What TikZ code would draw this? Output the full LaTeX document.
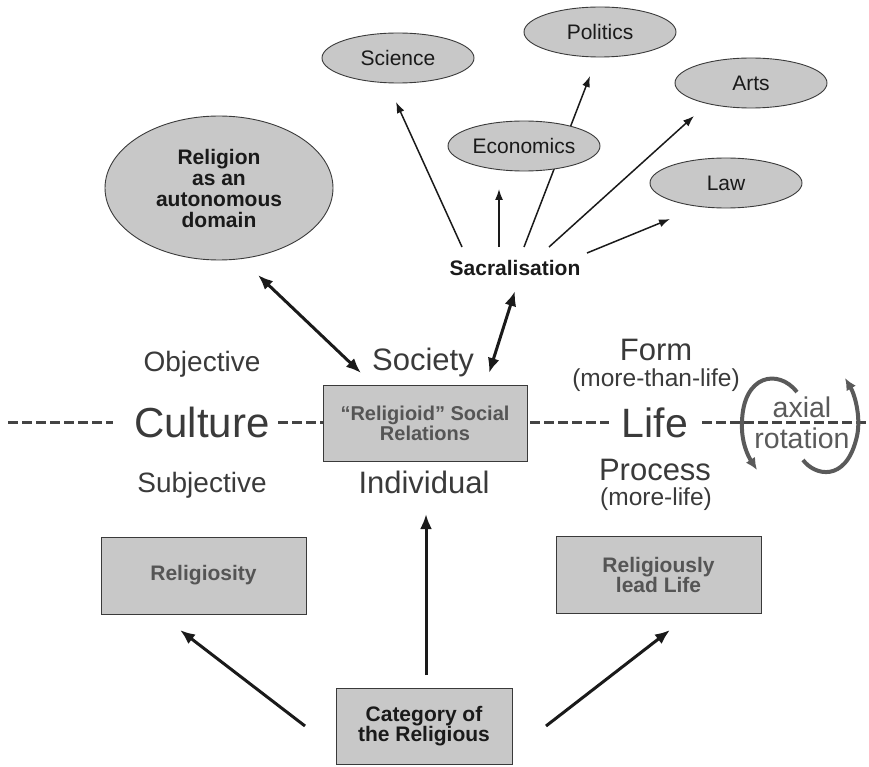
\documentclass[tikz,border=0pt]{standalone}
\usepackage{fontspec}
\setmainfont{Liberation Sans}
\usetikzlibrary{arrows.meta,shapes.geometric}
\definecolor{txt}{HTML}{3A3A3A}
\definecolor{boxtxt}{HTML}{555555}
\definecolor{fillg}{HTML}{C8C8C8}
\definecolor{edgec}{HTML}{3A3A3A}
\definecolor{dashc}{HTML}{444444}
\definecolor{rotc}{HTML}{5A5A5A}
\definecolor{ink}{HTML}{1A1A1A}
\newcommand\fsz[2]{\fontsize{#1}{#2}\selectfont}
\begin{document}
\begin{tikzpicture}[x=1pt,y=-1pt,
  lbl/.style={inner sep=0pt,text=txt,anchor=base},
  ell/.style={ellipse,draw=edgec,line width=0.9pt,fill=fillg,inner sep=0pt,text=ink,font=\fsz{21}{21}},
  boxn/.style={rectangle,draw=edgec,line width=0.9pt,fill=fillg,inner sep=0pt,align=center,text=boxtxt,font=\fsz{21}{20}\bfseries},
  dashline/.style={draw=dashc,line width=3pt,dash pattern=on 9.5pt off 4.5pt},
  thinarrow/.style={draw=ink,line width=1.5pt,-{Latex[length=11pt,width=8pt]}},
  thickarrow/.style={draw=ink,line width=3pt,-{Latex[length=15pt,width=12pt]}},
  dblarrow/.style={draw=ink,line width=3pt,{Latex[length=15pt,width=12pt]}-{Latex[length=15pt,width=12pt]}},
  rotarrow/.style={draw=rotc,line width=4pt,-{Latex[length=12pt,width=11pt]}}]
\useasboundingbox (0,0) rectangle (869,767);

% sacralisation
\node[lbl,text=ink,font=\fsz{21}{21}\bfseries] (sacr) at (515,275) {Sacralisation};

% spokes (drawn first so the ellipses cover them)
\coordinate (s1) at (462,247); \coordinate (t1) at (396,102);
\coordinate (s2) at (499,247); \coordinate (t2) at (499,189);
\coordinate (s3) at (524,247); \coordinate (t3) at (590,76);
\coordinate (s4) at (549,247); \coordinate (t4) at (694,116);
\coordinate (s5) at (587,253); \coordinate (t5) at (670,219);
\draw[thinarrow] (s1) -- (t1);
\draw[thinarrow] (s2) -- (t2);
\draw[thinarrow] (s3) -- (t3);
\draw[thinarrow] (s4) -- (t4);
\draw[thinarrow] (s5) -- (t5);

% ellipses
\node[ell,minimum width=228pt,minimum height=144pt,align=center,font=\fsz{21}{21}\bfseries] (religion) at (219,188) {Religion\\as an\\autonomous\\domain};
\node[ell,minimum width=152pt,minimum height=50pt] (science) at (398,58) {Science};
\node[ell,minimum width=152pt,minimum height=50pt] (politics) at (600,32) {Politics};
\node[ell,minimum width=152pt,minimum height=50pt] (economics) at (524,146) {Economics};
\node[ell,minimum width=152pt,minimum height=50pt] (arts) at (751,83) {Arts};
\node[ell,minimum width=152pt,minimum height=50pt] (law) at (726,183) {Law};

% middle labels
\node[lbl,font=\fsz{28}{28}] (objective) at (202,371) {Objective};
\node[lbl,font=\fsz{42}{42}] (culture) at (202,437) {Culture};
\node[lbl,font=\fsz{28}{28}] (subjective) at (202,492) {Subjective};
\node[lbl,font=\fsz{31}{31}] (society) at (423,370) {Society};
\node[lbl,font=\fsz{31}{31}] (individual) at (424,493) {Individual};
\node[lbl,font=\fsz{31}{31}] (form) at (656,360) {Form};
\node[lbl,font=\fsz{24.5}{24.5}] (mtl) at (656,386) {(more-than-life)};
\node[lbl,font=\fsz{41}{41}] (life) at (655,437) {Life};
\node[lbl,font=\fsz{31}{31}] (process) at (655,480) {Process};
\node[lbl,font=\fsz{24.5}{24.5}] (ml) at (656,505) {(more-life)};
\node[lbl,text=rotc,font=\fsz{28.5}{28.5}] (axial) at (802,417) {axial};
\node[lbl,text=rotc,font=\fsz{28.5}{28.5}] (rotation) at (802,448) {rotation};

% boxes
\node[boxn,minimum width=204pt,minimum height=76pt,font=\fsz{20}{20}\bfseries] (rsr) at (425,423) {“Religioid” Social\\Relations};
\node[boxn,minimum width=205pt,minimum height=77pt] (religiosity) at (203.5,575.5) {Religiosity};
\node[boxn,minimum width=205pt,minimum height=77pt] (rll) at (658.5,574.5) {Religiously\\lead Life};
\node[boxn,minimum width=176pt,minimum height=76pt,text=ink] (cat) at (424,726) {Category of\\the Religious};

% dashed axis
\coordinate (d0) at (8,422); \coordinate (d1) at (113,422);
\coordinate (d2) at (278,422); \coordinate (d3) at (323,422);
\coordinate (d4) at (530,422); \coordinate (d5) at (609,422);
\coordinate (d6) at (702,422); \coordinate (d7) at (869,422);
\draw[dashline] (d0) -- (d1);
\draw[dashline] (d2) -- (d3);
\draw[dashline] (d4) -- (d5);
\draw[dashline] (d6) -- (d7);

% double arrows
\coordinate (r1) at (258,275); \coordinate (r2) at (361,373);
\draw[dblarrow] (r1) -- (r2);
\coordinate (q1) at (515,291); \coordinate (q2) at (489,373);
\draw[dblarrow] (q1) -- (q2);

% axial rotation arcs
\coordinate (a0) at (797,392); \coordinate (a1) at (742,422); \coordinate (a2) at (757,470);
\draw[rotarrow] (a0) .. controls (778,368) and (743,375) .. (a1) .. controls (741,442) and (748,456) .. (a2);
\coordinate (b0) at (803,460); \coordinate (b1) at (856,440); \coordinate (b2) at (845,378);
\draw[rotarrow] (b0) .. controls (815,476) and (845,482) .. (b1) .. controls (862,420) and (855,395) .. (b2);

% bottom arrows
\coordinate (c1) at (305,726); \coordinate (e1) at (180,630);
\coordinate (c2) at (426,675); \coordinate (e2) at (426,514);
\coordinate (c3) at (546,726); \coordinate (e3) at (670,630);
\draw[thickarrow] (c1) -- (e1);
\draw[thickarrow] (c2) -- (e2);
\draw[thickarrow] (c3) -- (e3);
\end{tikzpicture}
\end{document}
